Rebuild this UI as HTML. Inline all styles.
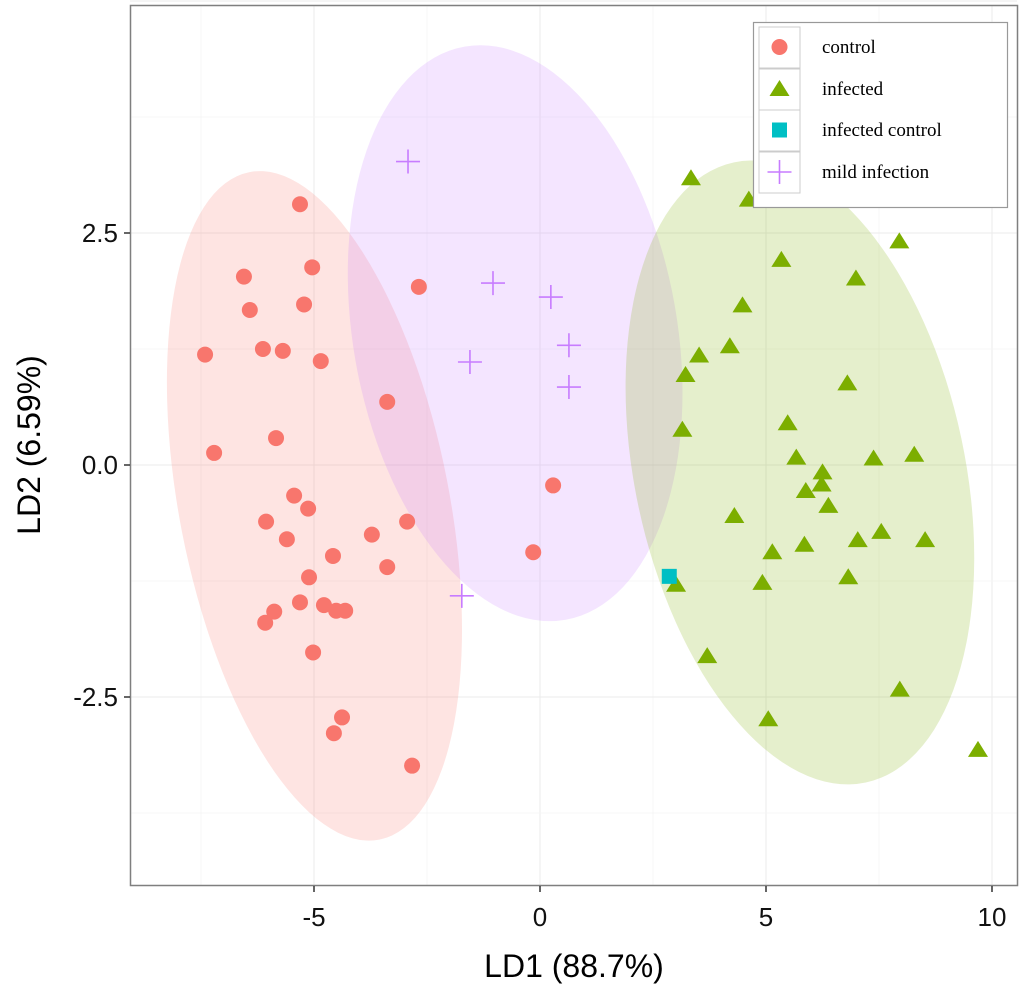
<!DOCTYPE html>
<html><head><meta charset="utf-8"><style>
html,body{margin:0;padding:0;background:#fff;}
svg text{font-family:"Liberation Sans",sans-serif;}
svg text.serif{font-family:"Liberation Serif",serif;}
</style></head><body>
<svg id="chart" width="1024" height="989" xmlns="http://www.w3.org/2000/svg">
<g id="grid"></g>
<g id="ellipses"></g>
<g id="points"></g>
<rect x="130.5" y="5.5" width="887" height="880" fill="none" stroke="#7f7f7f" stroke-width="1.5"/>
<g id="axes"></g>
<text x="574" y="977" font-size="32" text-anchor="middle" fill="#000">LD1 (88.7%)</text>
<text transform="translate(40,445) rotate(-90)" font-size="32" text-anchor="middle" fill="#000">LD2 (6.59%)</text>
<g id="legend">
<rect x="753.5" y="22.5" width="254" height="185" fill="#fff" stroke="#999" stroke-width="1.2"/>
</g>
</svg>
<script>
const xTicks = [-5, 0, 5, 10];
const yTicks = [2.5, 0.0, -2.5];
const yTickLabels = ["2.5", "0.0", "-2.5"];
const controlX = [-5.31,-6.55,-5.04,-6.42,-5.22,-6.13,-5.69,-7.41,-4.85,-2.68,-3.38,-5.84,-7.21,0.29,-0.15,-5.44,-5.13,-6.06,-2.94,-5.60,-3.72,-4.58,-3.38,-5.11,-5.31,-4.78,-4.51,-4.31,-5.88,-6.08,-5.02,-4.38,-4.56,-2.83];
const controlY = [2.81,2.03,2.13,1.67,1.73,1.25,1.23,1.19,1.12,1.92,0.68,0.29,0.13,-0.22,-0.94,-0.33,-0.47,-0.61,-0.61,-0.80,-0.75,-0.98,-1.10,-1.21,-1.48,-1.51,-1.57,-1.57,-1.58,-1.70,-2.02,-2.72,-2.89,-3.24];
const infectedX = [3.34,4.62,7.95,5.34,6.99,4.48,4.20,3.52,3.22,6.80,3.15,5.48,5.67,7.38,8.28,6.25,6.23,5.88,6.38,4.30,5.85,5.14,7.03,7.55,8.52,3.01,4.92,6.82,3.70,7.96,5.05,9.69];
const infectedY = [3.09,2.86,2.41,2.21,2.01,1.72,1.28,1.18,0.97,0.88,0.38,0.45,0.08,0.07,0.11,-0.08,-0.21,-0.28,-0.44,-0.55,-0.86,-0.94,-0.81,-0.72,-0.81,-1.29,-1.27,-1.21,-2.06,-2.42,-2.74,-3.07];
const infCtrlX = [2.86];
const infCtrlY = [-1.20];
const mildX = [-2.92,-1.04,0.24,0.64,-1.55,0.64,-1.73];
const mildY = [3.27,1.96,1.81,1.29,1.11,0.84,-1.41];
const ellCenterX = [-4.99, -0.55, 5.75];
const ellCenterY = [-0.44, 1.42, -0.08];

const NS = "http://www.w3.org/2000/svg";
const X0 = 540, XS = 45.2, Y0 = 465, YS = 92.8;
const sx = v => X0 + v * XS;
const sy = v => Y0 - v * YS;
function mk(tag, attrs, parent){ const e=document.createElementNS(NS,tag); for(const k in attrs) e.setAttribute(k,attrs[k]); parent.appendChild(e); return e; }

const grid = document.getElementById('grid');
for (let v=-7.5; v<=10.01; v+=2.5){
  const major = Math.abs(v%5)<0.01;
  const l = mk('line',{x1:sx(v),x2:sx(v),y1:5,y2:885,stroke:major?'#ebebeb':'#f5f5f5','stroke-width':major?1:0.8},grid);
  
  
}
for (let v=-3.75; v<=5; v+=1.25){
  const major = Math.abs((v/2.5)-Math.round(v/2.5))<0.01;
  const l = mk('line',{x1:130,x2:1017,y1:sy(v),y2:sy(v),stroke:major?'#ebebeb':'#f5f5f5','stroke-width':major?1:0.8},grid);
  
  
}

const ell = document.getElementById('ellipses');
const ellSpec = [{rx:135,ry:340,rot:-11,fill:'#F8766D',name:'control-ellipse'},
                 {rx:162,ry:291,rot:-10,fill:'#C77CFF',name:'mild-infection-ellipse'},
                 {rx:165,ry:317,rot:-12,fill:'#7CAE00',name:'infected-ellipse'}];
ellSpec.forEach((s,i)=>{
  const cx=sx(ellCenterX[i]), cy=sy(ellCenterY[i]);
  const e = mk('ellipse',{cx:cx,cy:cy,rx:s.rx,ry:s.ry,transform:`rotate(${s.rot} ${cx} ${cy})`,fill:s.fill,'fill-opacity':0.2},ell);
  
  
});

const pts = document.getElementById('points');
function circle(x,y,g){ return mk('circle',{cx:x,cy:y,r:8,fill:'#F8766D'},g); }
function tri(x,y,g){ return mk('polygon',{points:`${x},${y-9} ${x-10},${y+7} ${x+10},${y+7}`,fill:'#7CAE00'},g); }
function sq(x,y,g){ return mk('rect',{x:x-7.5,y:y-7.5,width:15,height:15,fill:'#00BFC4'},g); }
function plus(x,y,g){ return mk('path',{d:`M${x-12},${y}H${x+12}M${x},${y-12}V${y+12}`,stroke:'#C77CFF','stroke-width':1.6,fill:'none'},g); }
controlX.forEach((v,i)=>{ const e=circle(sx(v),sy(controlY[i]),pts);
  
   });
infectedX.forEach((v,i)=>{ const e=tri(sx(v),sy(infectedY[i]),pts);
  
   });
infCtrlX.forEach((v,i)=>{ const e=sq(sx(v),sy(infCtrlY[i]),pts);
  
   });
mildX.forEach((v,i)=>{ const e=plus(sx(v),sy(mildY[i]),pts);
  
   });

const axes = document.getElementById('axes');
xTicks.forEach(v=>{
  const t = mk('line',{x1:sx(v),x2:sx(v),y1:886,y2:892,stroke:'#333','stroke-width':1.5},axes);
  
  
  const l = mk('text',{x:sx(v),y:926,'font-size':26,'text-anchor':'middle',fill:'#111'},axes);
  l.textContent = String(v);
  
  
});
yTicks.forEach((v,i)=>{
  const t = mk('line',{x1:124,x2:130,y1:sy(v),y2:sy(v),stroke:'#333','stroke-width':1.5},axes);
  
  
  const l = mk('text',{x:118,y:sy(v)+9,'font-size':26,'text-anchor':'end',fill:'#111'},axes);
  l.textContent = yTickLabels[i];
  
  
});

const lg = document.getElementById('legend');
const legLabels = ["control","infected","infected control","mild infection"];
const legDraw = [circle, tri, sq, plus];
const legY = [47, 89, 130, 172];
legLabels.forEach((name,i)=>{
  const k = mk('rect',{x:759,y:legY[i]-20,width:41,height:41,fill:'#fff',stroke:'#ccc','stroke-width':1},lg);
  
  
  const m = legDraw[i](779.5, legY[i], lg);
  
  
  const t = mk('text',{x:822,y:legY[i]+6,'font-size':19,fill:'#000','class':'serif',style:'font-family:"Liberation Serif",serif'},lg);
  t.textContent = name;
  
  
});
</script>
</body></html>
